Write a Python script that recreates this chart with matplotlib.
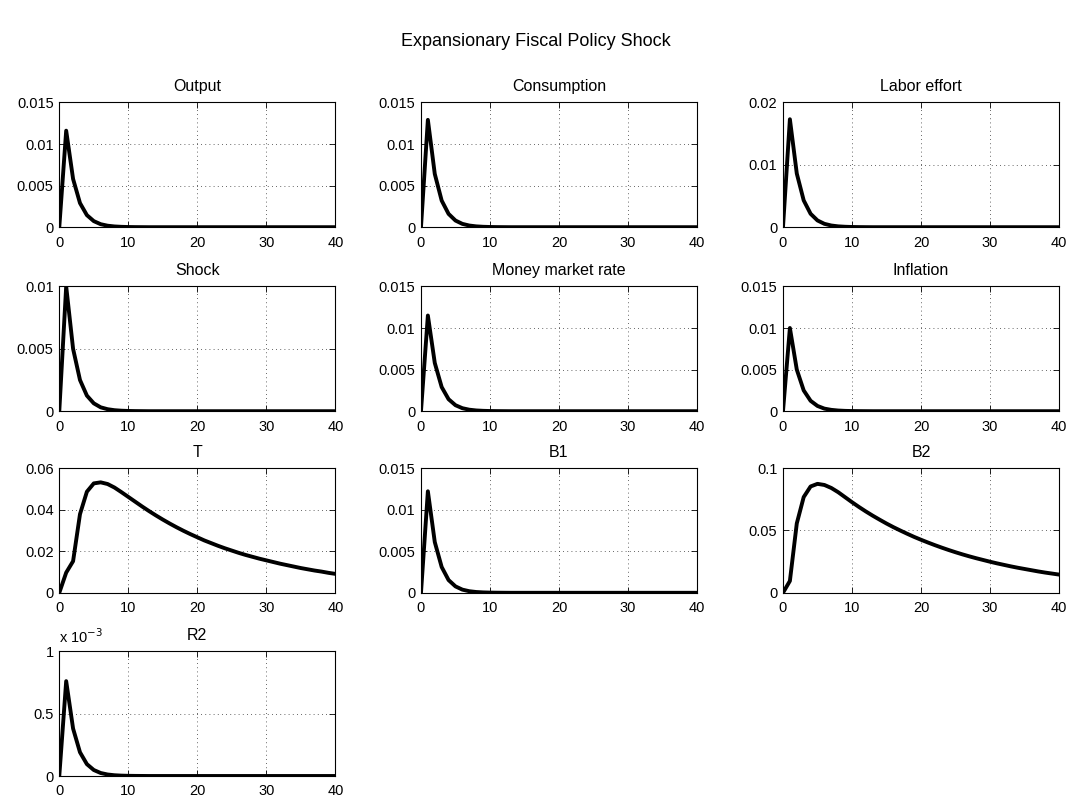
import matplotlib
matplotlib.use('Agg')
import matplotlib.pyplot as plt
from matplotlib.ticker import FuncFormatter

plt.rcParams['font.family'] = ['Liberation Sans', 'DejaVu Sans']

#impulse responses, periods 0..40
periods = list(range(41))

output = [0, 0.0116, 0.0058, 0.0029, 0.00145, 0.00073, 0.00036, 0.00018, 0.00009, 0.000045, 0.000023,
          0.000011, 0.000006, 0, 0, 0, 0, 0, 0, 0, 0, 0, 0, 0, 0, 0, 0, 0, 0, 0, 0,
          0, 0, 0, 0, 0, 0, 0, 0, 0, 0]
consumption = [0, 0.0129, 0.0064, 0.0032, 0.0016, 0.0008, 0.0004, 0.0002, 0.0001, 0.00005, 0.000025,
               0.000012, 0.000006, 0, 0, 0, 0, 0, 0, 0, 0, 0, 0, 0, 0, 0, 0, 0, 0, 0, 0,
               0, 0, 0, 0, 0, 0, 0, 0, 0, 0]
labor = [0, 0.0173, 0.0086, 0.0043, 0.00215, 0.00108, 0.00054, 0.00027, 0.000135, 0.00007, 0.000034,
         0.000017, 0.000008, 0, 0, 0, 0, 0, 0, 0, 0, 0, 0, 0, 0, 0, 0, 0, 0, 0, 0,
         0, 0, 0, 0, 0, 0, 0, 0, 0, 0]
shock = [0, 0.0100, 0.0050, 0.0025, 0.00125, 0.00063, 0.00031, 0.00016, 0.00008, 0.00004, 0.00002,
         0.00001, 0.000005, 0, 0, 0, 0, 0, 0, 0, 0, 0, 0, 0, 0, 0, 0, 0, 0, 0, 0,
         0, 0, 0, 0, 0, 0, 0, 0, 0, 0]
money_rate = [0, 0.0115, 0.0058, 0.0029, 0.00144, 0.00072, 0.00036, 0.00018, 0.00009, 0.000045, 0.000022,
              0.000011, 0.000006, 0, 0, 0, 0, 0, 0, 0, 0, 0, 0, 0, 0, 0, 0, 0, 0, 0, 0,
              0, 0, 0, 0, 0, 0, 0, 0, 0, 0]
inflation = [0, 0.0100, 0.0050, 0.0025, 0.00125, 0.00063, 0.00031, 0.00016, 0.00008, 0.00004, 0.00002,
             0.00001, 0.000005, 0, 0, 0, 0, 0, 0, 0, 0, 0, 0, 0, 0, 0, 0, 0, 0, 0, 0,
             0, 0, 0, 0, 0, 0, 0, 0, 0, 0]
T = [0, 0.0097, 0.0152, 0.0378, 0.0486, 0.0526, 0.0531, 0.0523, 0.0506, 0.0484, 0.0461,
     0.0438, 0.0415, 0.0393, 0.0372, 0.0352, 0.0333, 0.0315, 0.0298, 0.0282, 0.0267,
     0.0252, 0.0239, 0.0226, 0.0214, 0.0203, 0.0192, 0.0182, 0.0173, 0.0164, 0.0156,
     0.0148, 0.0140, 0.0133, 0.0126, 0.0119, 0.0113, 0.0107, 0.0102, 0.0096, 0.0091]
B1 = [0, 0.0122, 0.0061, 0.0031, 0.00153, 0.00077, 0.00038, 0.00019, 0.000095, 0.000048, 0.000024,
      0.000012, 0.000006, 0, 0, 0, 0, 0, 0, 0, 0, 0, 0, 0, 0, 0, 0, 0, 0, 0, 0,
      0, 0, 0, 0, 0, 0, 0, 0, 0, 0]
B2 = [0, 0.0095, 0.0556, 0.0767, 0.0852, 0.0873, 0.0864, 0.0840, 0.0806, 0.0766, 0.0726,
      0.0688, 0.0652, 0.0618, 0.0586, 0.0555, 0.0526, 0.0499, 0.0473, 0.0448, 0.0425,
      0.0403, 0.0382, 0.0362, 0.0343, 0.0325, 0.0308, 0.0292, 0.0277, 0.0263, 0.0249,
      0.0236, 0.0224, 0.0212, 0.0201, 0.0191, 0.0181, 0.0171, 0.0162, 0.0154, 0.0146]
R2 = [0, 0.00076, 0.00038, 0.00019, 0.000095, 0.000048, 0.000024, 0.000012, 0.000006, 0.000003, 0.0000015,
      0.0000008, 0.0000004, 0, 0, 0, 0, 0, 0, 0, 0, 0, 0, 0, 0, 0, 0, 0, 0, 0, 0,
      0, 0, 0, 0, 0, 0, 0, 0, 0, 0]

titles = ['Output', 'Consumption', 'Labor effort', 'Shock', 'Money market rate',
          'Inflation', 'T', 'B1', 'B2', 'R2']
series = [output, consumption, labor, shock, money_rate, inflation, T, B1, B2, R2]
yticks = [[0, 0.005, 0.01, 0.015], [0, 0.005, 0.01, 0.015], [0, 0.01, 0.02],
          [0, 0.005, 0.01], [0, 0.005, 0.01, 0.015], [0, 0.005, 0.01, 0.015],
          [0, 0.02, 0.04, 0.06], [0, 0.005, 0.01, 0.015], [0, 0.05, 0.1],
          [0, 0.0005, 0.001]]

fig = plt.figure(figsize=(10.72, 8), dpi=100)

lefts = [0.0553, 0.3927, 0.7304]
bottoms = [0.716, 0.486, 0.259, 0.030]

for i in range(10):
    row = i // 3
    col = i % 3
    ax = fig.add_axes([lefts[col], bottoms[row], 0.2575, 0.156])
    ax.plot(periods, series[i], color='black', linewidth=2.8, solid_joinstyle='round')
    ax.set_xlim(0, 40)
    ax.set_ylim(yticks[i][0], yticks[i][-1])
    ax.set_xticks([0, 10, 20, 30, 40])
    ax.set_yticks(yticks[i])
    if titles[i] == 'R2':
        ax.yaxis.set_major_formatter(FuncFormatter(lambda v, p: '%g' % (v * 1000)))
        ax.text(0.0, 1.04, r'x 10$^{-3}$', transform=ax.transAxes, fontsize=10.5, va='bottom')
    else:
        ax.yaxis.set_major_formatter(FuncFormatter(lambda v, p: '%g' % v))
    ax.grid(True, color='0.2', linestyle=(0, (1, 4)), linewidth=0.6)
    ax.tick_params(direction='in', top=True, right=True, length=4, width=0.6,
                   labelsize=10.5)
    ax.tick_params(axis='x', pad=6)
    ax.tick_params(axis='y', pad=4)
    for s in ax.spines.values():
        s.set_linewidth(0.8)
    ax.set_title(titles[i], fontsize=11.5, pad=8)

fig.suptitle('Expansionary Fiscal Policy Shock', fontsize=13, y=0.948, va='center')

plt.savefig('out.png', dpi=100)
